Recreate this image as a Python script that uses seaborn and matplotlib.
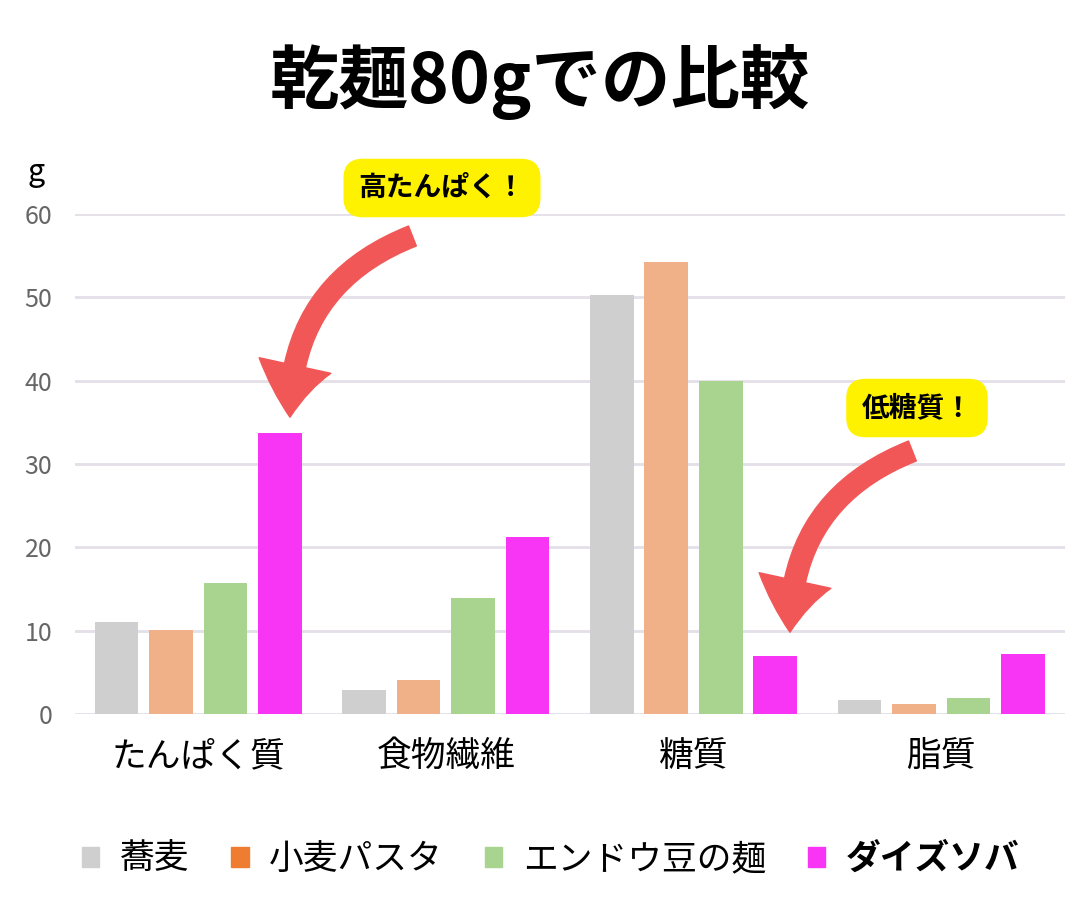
import matplotlib
matplotlib.use("Agg")
import matplotlib.pyplot as plt
import seaborn as sns
import pandas as pd

plt.rcParams["font.family"] = "Noto Sans CJK JP"

categories = ["たんぱく質", "食物繊維", "糖質", "脂質"]
noodles = ["蕎麦", "小麦パスタ", "エンドウ豆の麺", "ダイズソバ"]
values = {
    "蕎麦": [11.0, 2.9, 50.3, 1.7],
    "小麦パスタ": [10.1, 4.1, 54.3, 1.2],
    "エンドウ豆の麺": [15.7, 13.9, 40.0, 1.9],
    "ダイズソバ": [33.7, 21.2, 7.0, 7.2],
}
bar_colors = ["#d0cfd0", "#f0b088", "#a8d490", "#f935f5"]
legend_colors = ["#d0cfd0", "#ee7d31", "#a8d490", "#f935f5"]

rows = [(c, n, values[n][i]) for n in noodles for i, c in enumerate(categories)]
df = pd.DataFrame(rows, columns=["category", "noodle", "value"])

fig = plt.figure(figsize=(10.8, 9.09), dpi=100)
ax = fig.add_axes([0.069, 0.2145, 0.917, 0.55])
sns.barplot(data=df, x="category", y="value", hue="noodle", order=categories,
            hue_order=noodles, palette=bar_colors, width=0.88, gap=0.2,
            saturation=1, ax=ax, legend=False)
ax.set_ylim(0, 60)
ax.set_xlim(-0.5, 3.5)
ax.set_yticks(range(0, 61, 10))
ax.grid(axis="y", color="#e4dfe8", linewidth=2)
ax.set_axisbelow(True)
for s in ax.spines.values():
    s.set_visible(False)
ax.tick_params(axis="y", length=0, labelsize=18, labelcolor="#666666", pad=16)
ax.tick_params(axis="x", length=0, labelsize=25, pad=18)
ax.set_xlabel("")
ax.set_ylabel("")

fig.text(0.5, 0.91, "乾麺80gでの比較", ha="center", va="center",
         fontsize=50, fontweight="bold")
fig.text(0.033, 0.81, "g", ha="center", va="center", fontsize=22)

# callouts
box = dict(boxstyle="round,pad=0.55,rounding_size=0.7", fc="#fff200", ec="none")
fig.text(442 / 1080, 1 - 188 / 909, "高たんぱく！", ha="center", va="center",
         fontsize=20, fontweight="bold", bbox=box)
fig.text(917 / 1080, 1 - 408 / 909, "低糖質！", ha="center", va="center",
         fontsize=20, fontweight="bold", bbox=box)
arrow = dict(arrowstyle="simple,head_width=2.4,head_length=1.7,tail_width=0.7",
             color="#f25757", connectionstyle="arc3,rad=0.35")
fig.add_artist(matplotlib.patches.FancyArrowPatch(
    (415, 909 - 235), (290, 909 - 420), transform=None,
    mutation_scale=22, **arrow))
fig.add_artist(matplotlib.patches.FancyArrowPatch(
    (915, 909 - 450), (790, 909 - 635), transform=None,
    mutation_scale=22, **arrow))

handles = [matplotlib.patches.Patch(color=c) for c in legend_colors]
leg = fig.legend(handles, noodles, loc="center", bbox_to_anchor=(0.51, 0.055),
                 ncol=4, frameon=False, fontsize=25, handlelength=0.5,
                 handleheight=0.5, columnspacing=1.2, handletextpad=0.6)
leg.get_texts()[-1].set_fontweight("bold")

fig.savefig("out.png", dpi=100)
